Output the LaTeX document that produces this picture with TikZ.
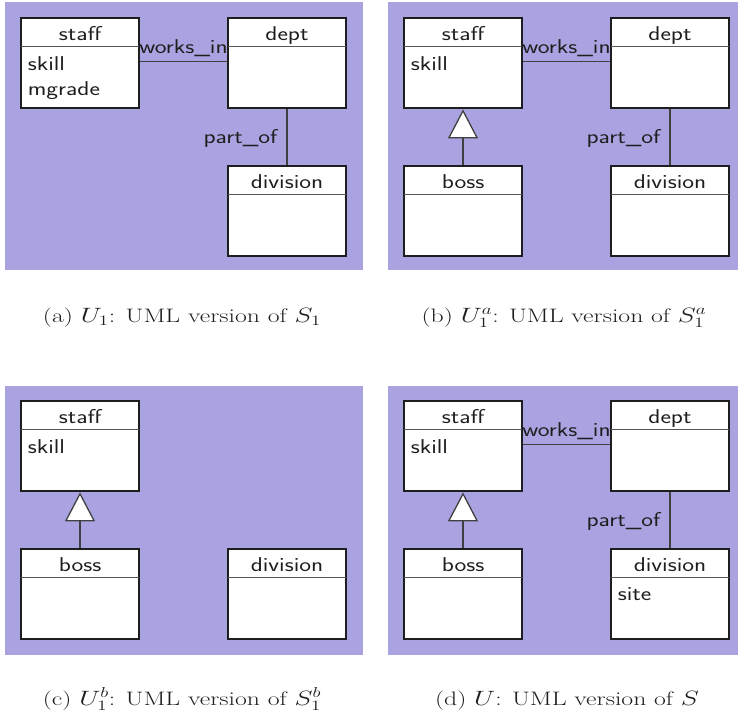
\documentclass[tikz,border=0pt]{standalone}
\usepackage{graphicx}
\usetikzlibrary{fit,arrows.meta}
\definecolor{bgpurple}{RGB}{170,163,225}
\definecolor{ink}{RGB}{30,30,30}
\newcommand\wide[1]{\scalebox{1.25}[1]{#1}}
\newcommand\widecap[1]{\scalebox{1.32}[1]{#1}}
\tikzset{
  panel/.style={fill=bgpurple, draw=none},
  classbox/.style={draw=ink, fill=white, line width=2.8pt, inner sep=0pt},
  sepline/.style={draw=ink!75, line width=1.1pt, shorten >=1.4pt, shorten <=1.4pt},
  ctitle/.style={font=\sffamily\fontsize{20}{25}\selectfont, text=ink, inner sep=0pt, anchor=base},
  cattr/.style={font=\sffamily\fontsize{20}{25}\selectfont, text=ink, align=left, inner sep=0pt, anchor=north west},
  conn/.style={draw=ink!85, line width=1.3pt},
  assoc/.style={font=\sffamily\fontsize{20}{25}\selectfont, text=ink, inner sep=0pt},
  inherit/.style={conn, -{Triangle[length=29pt,width=30pt,fill=white]}},
  capt/.style={font=\fontsize{19.5}{23}\selectfont, text=ink, inner sep=0pt, anchor=base},
}
\newcommand\umlclass[7]{%
  \node[classbox, fit={(#2,#3) (#4,#5)}] (#1) {};
  \draw[sepline] ([yshift=-30pt]#1.north west) -- ([yshift=-30pt]#1.north east);
  \node[ctitle] (#1-t) at ([yshift=-24pt]#1.north) {\wide{#6}};
  \node[cattr] (#1-a) at ([xshift=8pt,yshift=-40pt]#1.north west) {#7};
}
\begin{document}
\begin{tikzpicture}[x=1pt,y=-1pt]
\useasboundingbox (0,0) rectangle (738,718);
% panels
\fill[panel] (5,2) rectangle (363,270);
\fill[panel] (388,2) rectangle (738,270);
\fill[panel] (5,386) rectangle (363,655);
\fill[panel] (388,386) rectangle (738,655);

% (a)
\umlclass{as}{21}{18}{139}{108}{staff}{\wide{skill}\\\wide{mgrade}}
\umlclass{ad}{228}{18}{346}{108}{dept}{}
\umlclass{av}{228}{166}{346}{256}{division}{}
\draw[conn] ([yshift=-45pt]as.north east) -- ([yshift=-45pt]ad.north west)
  node[assoc, midway, anchor=base, yshift=8pt] (a-works) {\wide{works\_in}};
\draw[conn] (ad.south) -- (av.north)
  node[assoc, midway, anchor=base east, xshift=-9pt, yshift=-6pt] (a-part) {\wide{part\_of}};

% (b)
\umlclass{bs}{404}{18}{522}{108}{staff}{\wide{skill}}
\umlclass{bd}{611}{18}{729}{108}{dept}{}
\umlclass{bb}{404}{166}{522}{256}{boss}{}
\umlclass{bv}{611}{166}{729}{256}{division}{}
\draw[conn] ([yshift=-45pt]bs.north east) -- ([yshift=-45pt]bd.north west)
  node[assoc, midway, anchor=base, yshift=8pt] (b-works) {\wide{works\_in}};
\draw[conn] (bd.south) -- (bv.north)
  node[assoc, midway, anchor=base east, xshift=-9pt, yshift=-6pt] (b-part) {\wide{part\_of}};
\draw[inherit] (bb.north) -- (bs.south);

% (c)
\umlclass{cs}{21}{401}{139}{491}{staff}{\wide{skill}}
\umlclass{cb}{21}{549}{139}{639}{boss}{}
\umlclass{cv}{228}{549}{346}{639}{division}{}
\draw[inherit] (cb.north) -- (cs.south);

% (d)
\umlclass{ds}{404}{401}{522}{491}{staff}{\wide{skill}}
\umlclass{dd}{611}{401}{729}{491}{dept}{}
\umlclass{db}{404}{549}{522}{639}{boss}{}
\umlclass{dv}{611}{549}{729}{639}{division}{\wide{site}}
\draw[conn] ([yshift=-45pt]ds.north east) -- ([yshift=-45pt]dd.north west)
  node[assoc, midway, anchor=base, yshift=8pt] (d-works) {\wide{works\_in}};
\draw[conn] (dd.south) -- (dv.north)
  node[assoc, midway, anchor=base east, xshift=-9pt, yshift=-6pt] (d-part) {\wide{part\_of}};
\draw[inherit] (db.north) -- (ds.south);

% captions
\node[capt] (capa) at (182,322.5) {\widecap{(a) $U_1$: UML version of $S_1$}};
\node[capt] (capb) at (564,322.5) {\widecap{(b) $U_1^a$: UML version of $S_1^a$}};
\node[capt] (capc) at (182,705.5) {\widecap{(c) $U_1^b$: UML version of $S_1^b$}};
\node[capt] (capd) at (567,705.5) {\widecap{(d) $U$: UML version of $S$}};
\end{tikzpicture}
\end{document}
